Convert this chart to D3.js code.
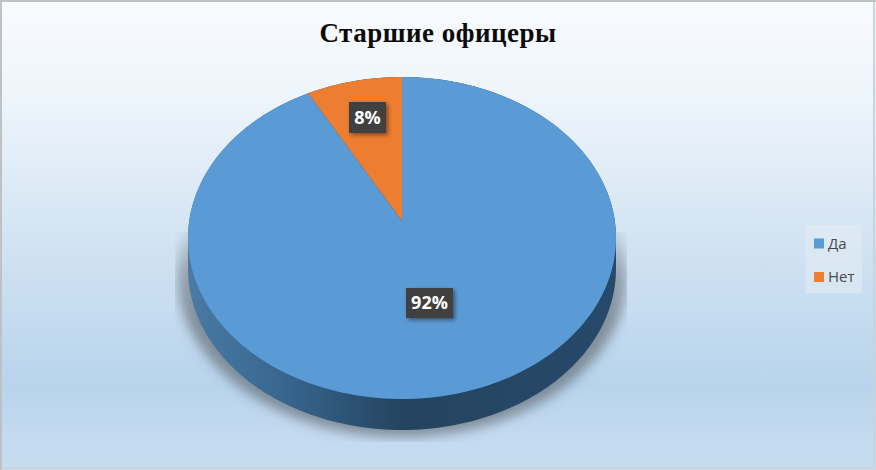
<!DOCTYPE html>
<html>
<head>
<meta charset="utf-8">
<script src="https://cdn.jsdelivr.net/npm/d3@7"></script>
<style>
    html, body { margin: 0; padding: 0; background: #fff; overflow: hidden; }
    svg { display: block; }
</style>
</head>
<body>
<svg id="chart" width="876" height="470"></svg>
<script>
const chartTitle = 'Старшие офицеры';
const categories = ['Да', 'Нет'];
const shares = [92, 8];
const sliceColors = ['#5b9bd5', '#ed7d31'];

const width = 876;
const height = 470;

// Pie lies on a tilted plane, so the hub sits above the middle of the ellipse
const hub = { x: 402, y: 221 };
const tilt = { k: 0.1056, rx: 212.8, ry: 159.2, depth: 31 };

function project(angle) {
    const u = Math.sin(angle);
    const v = Math.cos(angle);
    const w = 1 + tilt.k * v;
    return [hub.x + (tilt.rx * u) / w, hub.y - (tilt.ry * v) / w];
}

const svg = d3.select('#chart');
const defs = svg.append('defs');

const bg = defs.append('linearGradient').attr('id', 'bg').attr('x2', 0).attr('y2', 1);
[[0, '#f9fbfe'], [0.2, '#eef5fb'], [0.55, '#cfe1f2'], [0.82, '#b8d4ec'], [0.93, '#c4daf0'], [1, '#c6dcee']]
    .forEach(([o, c]) => bg.append('stop').attr('offset', o).attr('stop-color', c));

const side = defs.append('linearGradient').attr('id', 'side');
[[0, '#4a7aa5'], [0.22, '#38668f'], [0.5, '#24445f'], [1, '#27496a']]
    .forEach(([o, c]) => side.append('stop').attr('offset', o).attr('stop-color', c));

// Shadow fades out towards the widest part of the pie
const shadowFade = defs.append('linearGradient').attr('id', 'shadowFade')
    .attr('gradientUnits', 'userSpaceOnUse').attr('x1', 0).attr('x2', 0).attr('y1', 232).attr('y2', 320);
[[0, 0.15], [0.5, 0.5], [1, 0.62]]
    .forEach(([o, a]) => shadowFade.append('stop').attr('offset', o)
        .attr('stop-color', '#5a6169').attr('stop-opacity', a));

defs.append('filter').attr('id', 'blur').attr('x', '-20%').attr('y', '-20%')
    .attr('width', '140%').attr('height', '140%')
    .append('feGaussianBlur').attr('stdDeviation', 6);
defs.append('filter').attr('id', 'labelShadow').attr('x', '-30%').attr('y', '-30%')
    .attr('width', '160%').attr('height', '160%')
    .append('feDropShadow').attr('dx', 2).attr('dy', 2).attr('stdDeviation', 2)
    .attr('flood-color', '#000').attr('flood-opacity', 0.45);
defs.append('clipPath').attr('id', 'shadowClip').append('rect')
    .attr('x', 175).attr('y', 232).attr('width', 452).attr('height', 210);

// Background and the screenshot's thin border
svg.append('rect').attr('width', width).attr('height', height).attr('fill', 'url(#bg)');
svg.append('path').attr('d', `M1,${height}V1H${width}`).attr('fill', 'none')
    .attr('stroke', '#bfc1c3').attr('stroke-width', 2);
svg.append('path').attr('d', `M${width - 2},2V${height - 2}H2`).attr('fill', 'none')
    .attr('stroke', '#c9d3da').attr('stroke-width', 2);

svg.append('text').attr('x', 438).attr('y', 42).attr('text-anchor', 'middle')
    .attr('font-family', '"Liberation Serif", serif').attr('font-weight', 700)
    .attr('font-size', 27).attr('letter-spacing', 0.5).attr('fill', '#0b0b0b').text(chartTitle);

// First slice starts at twelve o'clock and runs clockwise
const pieData = d3.pie().sort(null)(shares);

const line = d3.line();

function rimPoints(a0, a1) {
    const n = Math.ceil(Math.abs(a1 - a0) * 40);
    return d3.range(n + 1).map((i) => project(a0 + ((a1 - a0) * i) / n));
}

const fullRim = rimPoints(0, 2 * Math.PI);
const rimPath = (dy, sx = 1) =>
    line(fullRim.map((p) => [hub.x + (p[0] - hub.x) * sx, p[1] + dy])) + 'Z';

// Soft shadow, cut off square by the plot box as in the original
svg.append('g').attr('clip-path', 'url(#shadowClip)')
    .append('path').attr('d', rimPath(38, 1.05)).attr('fill', 'url(#shadowFade)')
    .attr('filter', 'url(#blur)');

// Side wall: the rim swept down by the depth of the pie
const sweep = d3.range(0, tilt.depth + 1).map((dy) => rimPath(dy)).join('');
svg.append('path').attr('d', sweep).attr('fill', 'url(#side)');

// Top faces
svg.selectAll('path.slice').data(pieData).join('path').attr('class', 'slice')
    .attr('fill', (d, i) => sliceColors[i])
    .attr('d', (d) => line([[hub.x, hub.y], ...rimPoints(d.startAngle, d.endAngle)]) + 'Z');

// Percentage labels
const labelPos = [[429.5, 303], [367.5, 117.5]];
const labelSize = [[47, 30], [37, 31]];
const labels = svg.selectAll('g.label').data(pieData).join('g').attr('class', 'label')
    .attr('transform', (d, i) => `translate(${labelPos[i]})`);
labels.append('rect')
    .attr('x', (d, i) => -labelSize[i][0] / 2).attr('y', (d, i) => -labelSize[i][1] / 2)
    .attr('width', (d, i) => labelSize[i][0]).attr('height', (d, i) => labelSize[i][1])
    .attr('fill', '#404040').attr('filter', 'url(#labelShadow)');
labels.append('text').attr('text-anchor', 'middle').attr('dy', '0.36em')
    .attr('font-family', '"Open Sans", sans-serif').attr('font-weight', 700)
    .attr('font-size', 18).attr('fill', '#fff').text((d) => `${d.data}%`);

// Legend
const legend = svg.append('g').attr('transform', 'translate(805,225)');
legend.append('rect').attr('width', 57).attr('height', 68).attr('fill', '#e4ecf3').attr('fill-opacity', 0.55);
const legendY = d3.scalePoint().domain(categories).range([18.5, 52]);
const items = legend.selectAll('g').data(categories).join('g')
    .attr('transform', (d) => `translate(9,${legendY(d)})`);
items.append('rect').attr('y', -5).attr('width', 10).attr('height', 10)
    .attr('fill', (d, i) => sliceColors[i]);
items.append('text').attr('x', 14).attr('dy', '0.35em')
    .attr('font-family', '"Open Sans", sans-serif').attr('font-size', 15)
    .attr('fill', '#4a4a4a').text((d) => d);
</script>
</body>
</html>
